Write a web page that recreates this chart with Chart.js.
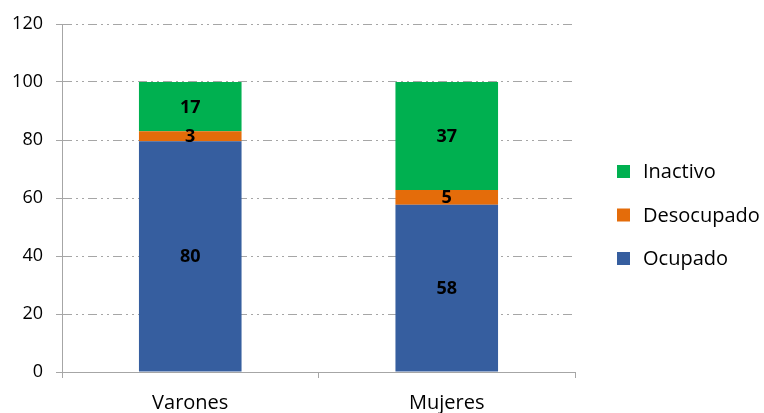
<!DOCTYPE html>
<html>
<head>
<meta charset="utf-8">
<script src="https://cdn.jsdelivr.net/npm/chart.js@4.4.1/dist/chart.umd.min.js"></script>
<style>
  html, body { margin: 0; padding: 0; background: #fff; }
  #wrap { width: 764px; height: 413px; }
</style>
</head>
<body>
<div id="wrap"><canvas id="chart"></canvas></div>
<script>
// Población por condición de actividad, por sexo (%)
const categories = ['Varones', 'Mujeres'];
const ocupado = [79.6, 57.7];
const desocupado = [3.4, 5.1];
const inactivo = [17.0, 37.2];
const yTicks = [0, 20, 40, 60, 80, 100, 120];

const FONT = '"Open Sans", sans-serif';
const GRID = '#a6a6a6';

// Etiquetas de valor centradas en cada segmento (sin plugin externo)
const barLabels = {
  id: 'barLabels',
  afterDatasetsDraw(chart) {
    const ctx = chart.ctx;
    ctx.save();
    ctx.font = 'bold 18px ' + FONT;
    ctx.fillStyle = '#000';
    ctx.textAlign = 'center';
    ctx.textBaseline = 'middle';
    chart.data.datasets.forEach((ds, i) => {
      chart.getDatasetMeta(i).data.forEach((bar, j) => {
        const mid = (bar.y + bar.base) / 2;
        ctx.fillText(String(Math.round(ds.data[j])), bar.x, mid + 1);
      });
    });
    ctx.restore();
  }
};

// Leyenda a la derecha, en orden inverso (Inactivo arriba)
const sideLegend = {
  id: 'sideLegend',
  afterDraw(chart) {
    const { ctx, chartArea } = chart;
    const sets = [...chart.data.datasets].reverse();
    const x = chartArea.right + 42;
    const midY = (chartArea.top + chartArea.bottom) / 2 + 17;
    const step = 43.5;
    ctx.save();
    ctx.font = '20px ' + FONT;
    ctx.textBaseline = 'middle';
    ctx.textAlign = 'left';
    sets.forEach((ds, i) => {
      const y = midY + (i - 1) * step;
      ctx.fillStyle = ds.backgroundColor;
      ctx.fillRect(x, y - 6.5, 13, 13);
      ctx.fillStyle = '#000';
      ctx.fillText(ds.label, x + 26, y + 1);
    });
    ctx.restore();
  }
};

new Chart(document.getElementById('chart').getContext('2d'), {
  type: 'bar',
  data: {
    labels: categories,
    datasets: [
      { label: 'Ocupado', data: ocupado, backgroundColor: '#365E9F' },
      { label: 'Desocupado', data: desocupado, backgroundColor: '#E46C0A' },
      { label: 'Inactivo', data: inactivo, backgroundColor: '#00B050' },
    ]
  },
  options: {
    responsive: true,
    maintainAspectRatio: false,
    animation: false,
    barPercentage: 0.4,
    categoryPercentage: 1,
    layout: { padding: { top: 24, right: 189, bottom: 0, left: 4 } },
    plugins: {
      tooltip: { enabled: false },
      legend: { display: false }
    },
    scales: {
      x: {
        stacked: true,
        afterFit: axis => { axis.height = 41; },
        grid: { drawOnChartArea: false, drawTicks: true, tickLength: 6, offset: true, color: GRID },
        border: { color: GRID, width: 1 },
        ticks: { color: '#000', padding: 13, font: { family: FONT, size: 20 } }
      },
      y: {
        stacked: true,
        min: 0,
        max: 120,
        afterBuildTicks: axis => { axis.ticks = yTicks.map(v => ({ value: v })); },
        afterFit: axis => { axis.width = 58; },
        grid: { color: GRID, lineWidth: 1, tickLength: 6, tickBorderDash: [] },
        border: { color: GRID, width: 1, dash: [9, 4, 2, 4, 2, 4] },
        ticks: { color: '#000', padding: 13, font: { family: FONT, size: 18 } }
      }
    }
  },
  plugins: [barLabels, sideLegend]
});
</script>
</body>
</html>
